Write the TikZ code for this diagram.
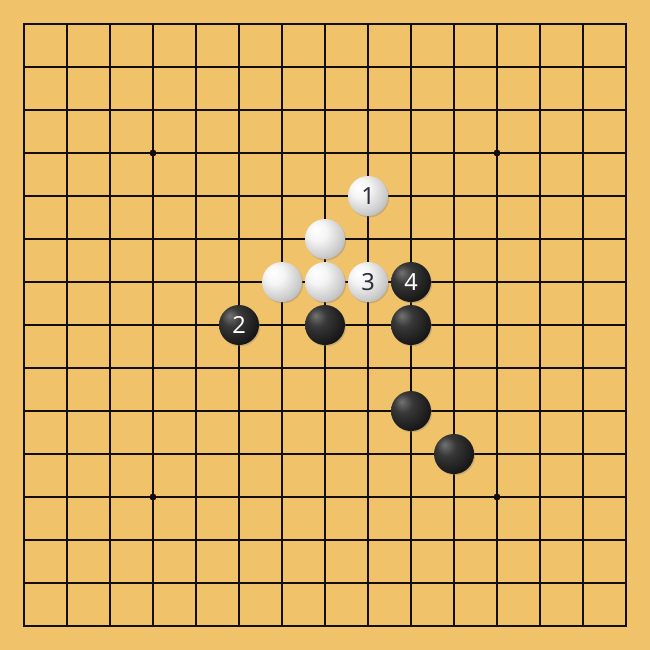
\documentclass[tikz,border=0pt]{standalone}
\usepackage{fontspec}
\newfontfamily\stonefont{Noto Sans}
\usetikzlibrary{positioning,shadows}
\definecolor{boardwood}{RGB}{240,194,106}
\definecolor{gridline}{RGB}{20,14,6}
\definecolor{digitdark}{RGB}{45,45,60}
%Define shadings for the stones
\pgfdeclareradialshading{whiteball}{\pgfpoint{-12bp}{12bp}}{%
  color(0bp)=(white); color(12bp)=(white!96!black);
  color(28bp)=(black!20); color(42bp)=(black!38); color(60bp)=(black!50)}
\pgfdeclareradialshading{blackball}{\pgfpoint{-12bp}{12bp}}{%
  color(0bp)=(black!55); color(12bp)=(black!78);
  color(36bp)=(black!94); color(70bp)=(black)}
\tikzset{
    %Define style for the grid
    grid/.style={
           draw=gridline,
           line width=.35pt},
    edge/.style={
           draw=gridline,
           line width=.8pt},
    hoshi/.style={
           fill=gridline},
    %Define style for stones
    wstone/.style={
           circle,
           inner sep=0pt,
           minimum size=.465cm,
           shading=whiteball,
           drop shadow={shadow xshift=.35pt, shadow yshift=-.45pt, opacity=.35},
           font=\stonefont\fontsize{7.8}{8}\selectfont,
           text=digitdark},
    bstone/.style={
           circle,
           inner sep=0pt,
           minimum size=.465cm,
           shading=blackball,
           drop shadow={shadow xshift=.35pt, shadow yshift=-.45pt, opacity=.35},
           font=\stonefont\fontsize{7.8}{8}\selectfont,
           text=white}
}

\begin{document}
\begin{tikzpicture}[x=.5cm,y=-.5cm]
\useasboundingbox[fill=boardwood] (-24/43,-24/43) rectangle (626/43,626/43);
% lines of the board
\foreach \i in {1,...,13}{
  \path[grid] (\i,0) -- (\i,14);
  \path[grid] (0,\i) -- (14,\i);
}
\path[edge] (0,0) rectangle (14,14);
\foreach \x/\y in {3/3,11/3,3/11,11/11}
  \path[hoshi] (\x,\y) circle (1.15pt);
% white stones
\node[wstone] (w1) at (8,4) {1};
\node[wstone] (wa) at (7,5) {};
\node[wstone] (wb) at (6,6) {};
\node[wstone] (wc) at (7,6) {};
\node[wstone] (w3) at (8,6) {3};
% black stones
\node[bstone] (b4) at (9,6) {4};
\node[bstone] (b2) at (5,7) {2};
\node[bstone] (ba) at (7,7) {};
\node[bstone] (bb) at (9,7) {};
\node[bstone] (bc) at (9,9) {};
\node[bstone] (bd) at (10,10) {};
\end{tikzpicture}
\end{document}
